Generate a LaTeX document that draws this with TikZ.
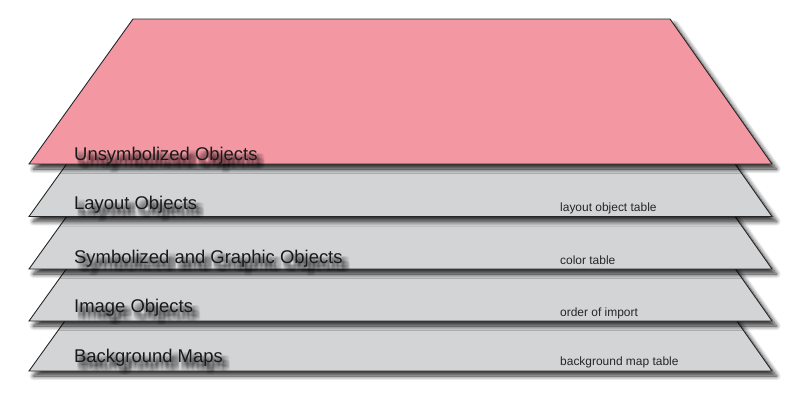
\documentclass[tikz,border=0pt]{standalone}
\usepackage{fontspec}
\setmainfont{Liberation Sans}
\usetikzlibrary{shadows.blur}
\definecolor{pinkf}{RGB}{243,152,163}
\definecolor{grayf}{RGB}{211,212,214}
\tikzset{
  layer/.style={draw=black!85, line width=0.9bp, line join=miter,
    blur shadow={shadow xshift=4.5bp, shadow yshift=-5bp, shadow blur radius=4.5bp, shadow blur steps=12, shadow opacity=80}},
  biglabel/.style={anchor=base west, inner sep=0pt, font=\fontsize{18.5}{20}\selectfont, text=black!90},
  smalllabel/.style={anchor=base west, inner sep=0pt, font=\fontsize{12}{14}\selectfont, text=black!85},
  tshadow/.style={text=black, text opacity=0.028},
}
\newcommand{\shadowstack}[1]{%
  \foreach \dx in {2,...,8}{\foreach \dy in {3,...,9}{\rlap{\hspace*{\dx bp}\raisebox{-\dy bp}{#1}}}}\phantom{#1}}
\newcommand{\biglbl}[4]{%
  \node[biglabel, tshadow] (#1-shadow) at (#2,#3) {\shadowstack{#4}};
  \node[biglabel] (#1) at (#2,#3) {#4};
}
\begin{document}
\begin{tikzpicture}[x=1bp,y=-1bp]
\useasboundingbox (0,0) rectangle (800,403);
% gray layers, bottom first
\foreach \b in {371,321,269,216.5} {
  \draw[layer, fill=grayf] (29,\b) -- (133,\b-145) -- (670,\b-145) -- (772,\b) -- cycle;
}
% pink top layer
\draw[layer, fill=pinkf] (29,164) -- (133,19) -- (670,19) -- (772,164) -- cycle;
% labels
\biglbl{unsym}{74}{160}{Unsymbolized Objects}
\biglbl{layout}{74}{209}{Layout Objects}
\biglbl{symb}{74}{263}{Symbolized and Graphic Objects}
\biglbl{image}{74}{312}{Image Objects}
\biglbl{bgmaps}{74}{362}{Background Maps}
\node[smalllabel] (lot) at (560,211) {layout object table};
\node[smalllabel] (ct) at (560,264) {color table};
\node[smalllabel] (ooi) at (560,316) {order of import};
\node[smalllabel] (bmt) at (560,365) {background map table};
\end{tikzpicture}
\end{document}
